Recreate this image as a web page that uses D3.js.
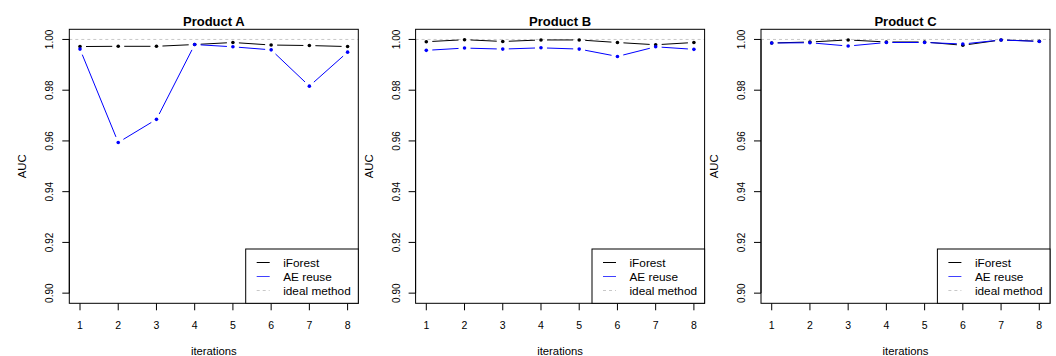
<!DOCTYPE html>
<html>
<head>
<meta charset="utf-8">
<script src="https://cdn.jsdelivr.net/npm/d3@7"></script>
<style>
  html, body { margin: 0; padding: 0; background: #fff; }
  svg text { font-family: "Liberation Sans", Arial, Helvetica, sans-serif; fill: #000; }
</style>
</head>
<body>
<svg id="chart" width="1056" height="356"></svg>
<script>
// ---- data ----
const panels = ["Product A", "Product B", "Product C"];
const iterations = [1, 2, 3, 4, 5, 6, 7, 8];
const iForestA = [0.9972, 0.9973, 0.9973, 0.9980, 0.9988, 0.9978, 0.9976, 0.9972];
const aeReuseA = [0.9962, 0.9594, 0.9685, 0.9980, 0.9971, 0.9959, 0.9816, 0.9950];
const iForestB = [0.9991, 0.9999, 0.9992, 0.9998, 0.9998, 0.9988, 0.9979, 0.9988];
const aeReuseB = [0.9957, 0.9966, 0.9962, 0.9967, 0.9962, 0.9933, 0.9971, 0.9961];
const iForestC = [0.9986, 0.9990, 0.9998, 0.9990, 0.9990, 0.9977, 0.9998, 0.9993];
const aeReuseC = [0.9986, 0.9987, 0.9974, 0.9988, 0.9988, 0.9982, 0.9998, 0.9992];
const idealValue = 1.0;
const yTicks = [0.90, 0.92, 0.94, 0.96, 0.98, 1.00];
const legendLabels = ["iForest", "AE reuse", "ideal method"];
const seriesByPanel = [[iForestA, aeReuseA], [iForestB, aeReuseB], [iForestC, aeReuseC]];

// ---- layout ----
const svg = d3.select("#chart");
svg.append("rect").attr("width", 1056).attr("height", 356).attr("fill", "#fff");
const plotLefts = [69.3, 415.6, 761];
const plotW = 289;
const plotTop = 29.3, plotBottom = 303.3;
const colors = ["#000000", "#0000ff"];
const idealColor = "#c8c8c8";
const gap = 6;

const x = d3.scaleLinear().domain([0.72, 8.28]).range([0, plotW]);
const y = d3.scaleLinear().domain([0.896, 1.004]).range([plotBottom, plotTop]);

panels.forEach((title, pi) => {
  const g = svg.append("g").attr("transform", `translate(${plotLefts[pi]},0)`);

  // ideal line
  g.append("line")
    .attr("x1", 0).attr("x2", plotW)
    .attr("y1", y(idealValue)).attr("y2", y(idealValue))
    .attr("stroke", idealColor).attr("stroke-width", 1)
    .attr("stroke-dasharray", "3,3");

  // series (type="b": segments with gaps around points)
  seriesByPanel[pi].forEach((vals, si) => {
    const pts = iterations.map((it, i) => [x(it), y(vals[i])]);
    for (let i = 0; i < pts.length - 1; i++) {
      const [x0, y0] = pts[i], [x1, y1] = pts[i + 1];
      const dx = x1 - x0, dy = y1 - y0, d = Math.hypot(dx, dy);
      if (d <= 2 * gap) continue;
      const ux = dx / d, uy = dy / d;
      g.append("line")
        .attr("x1", x0 + ux * gap).attr("y1", y0 + uy * gap)
        .attr("x2", x1 - ux * gap).attr("y2", y1 - uy * gap)
        .attr("stroke", colors[si]).attr("stroke-width", 1);
    }
    g.selectAll(null).data(pts).enter().append("circle")
      .attr("cx", d => d[0]).attr("cy", d => d[1]).attr("r", 1.8)
      .attr("fill", colors[si]);
  });

  // box
  g.append("rect")
    .attr("x", 0).attr("y", plotTop).attr("width", plotW).attr("height", plotBottom - plotTop)
    .attr("fill", "none").attr("stroke", "#000").attr("stroke-width", 1);

  // y axis
  const yAxis = g.append("g");
  yAxis.append("line").attr("x1", 0).attr("x2", 0)
    .attr("y1", y(yTicks[0])).attr("y2", y(yTicks[yTicks.length - 1]))
    .attr("stroke", "#000");
  yTicks.forEach(t => {
    yAxis.append("line").attr("x1", -7).attr("x2", 0)
      .attr("y1", y(t)).attr("y2", y(t)).attr("stroke", "#000");
    yAxis.append("text")
      .attr("transform", `translate(-16,${y(t)}) rotate(-90)`)
      .attr("text-anchor", "middle")
      .attr("font-size", 10)
      .text(d3.format(".2f")(t));
  });

  // x axis
  const xAxis = g.append("g");
  iterations.forEach(t => {
    xAxis.append("line").attr("x1", x(t)).attr("x2", x(t))
      .attr("y1", plotBottom).attr("y2", plotBottom + 7).attr("stroke", "#000");
    xAxis.append("text")
      .attr("x", x(t)).attr("y", plotBottom + 25.5)
      .attr("text-anchor", "middle").attr("font-size", 10.5)
      .text(t);
  });

  // labels
  g.append("text").attr("x", plotW / 2).attr("y", 26)
    .attr("text-anchor", "middle").attr("font-size", 13).attr("font-weight", "bold")
    .text(title);
  g.append("text").attr("x", plotW / 2).attr("y", 354.5)
    .attr("text-anchor", "middle").attr("font-size", 11.3)
    .text("iterations");
  g.append("text")
    .attr("transform", `translate(-43,${(plotTop + plotBottom) / 2}) rotate(-90)`)
    .attr("text-anchor", "middle").attr("font-size", 11.3)
    .text("AUC");

  // legend (bottom right)
  const lg = g.append("g");
  const lgLeft = plotW - 112.6, lgTop = 249;
  lg.append("rect")
    .attr("x", lgLeft).attr("y", lgTop).attr("width", plotW - lgLeft).attr("height", plotBottom - lgTop)
    .attr("fill", "#fff").attr("stroke", "#000").attr("stroke-width", 1);
  const lgColors = [colors[0], "#4040ff", idealColor];
  legendLabels.forEach((lab, i) => {
    const ly = 262.5 + i * 14;
    lg.append("line")
      .attr("x1", lgLeft + 11).attr("x2", lgLeft + 24)
      .attr("y1", ly).attr("y2", ly)
      .attr("stroke", lgColors[i]).attr("stroke-width", 1)
      .attr("stroke-dasharray", i === 2 ? "3,3" : null);
    lg.append("text")
      .attr("x", lgLeft + 37.5).attr("y", ly + 4)
      .attr("font-size", 11.8)
      .text(lab);
  });
});
</script>
</body>
</html>
